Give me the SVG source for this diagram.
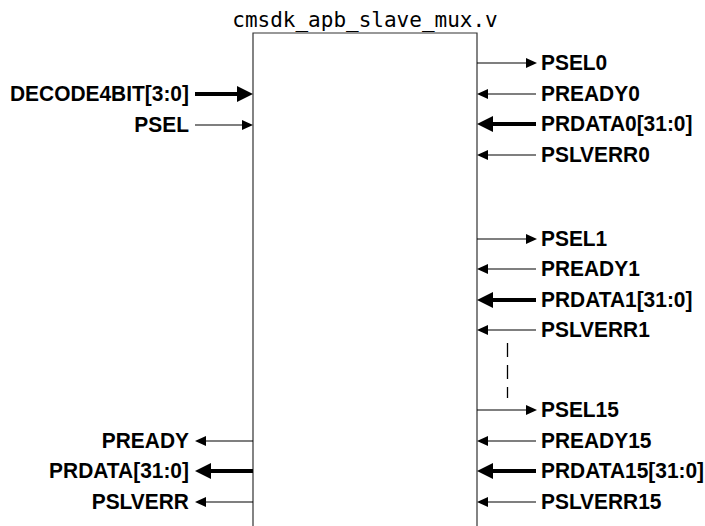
<svg xmlns="http://www.w3.org/2000/svg" width="705" height="526" viewBox="0 0 705 526">
<style>
.lbl{font-family:"Liberation Sans",Arial,sans-serif;font-weight:bold;font-size:22.5px;fill:#000}
.ttl{font-family:"DejaVu Sans Mono","Liberation Mono",monospace;font-size:21px;fill:#000}
.thin{stroke:#000;stroke-width:1.2;fill:none;marker-end:url(#ah)}
.thick{stroke:#000;stroke-width:4;fill:none;marker-end:url(#ahb)}
.box{fill:none;stroke:#333;stroke-width:1.2}
</style>
<defs>
<marker id="ah" viewBox="0 -5 11 10" markerWidth="11" markerHeight="10" refX="1" refY="0" orient="auto" markerUnits="userSpaceOnUse"><path d="M0,-5 L11,0 L0,5 Z" fill="#000"/></marker>
<marker id="ahb" viewBox="0 -8 16 16" markerWidth="16" markerHeight="16" refX="1" refY="0" orient="auto" markerUnits="userSpaceOnUse"><path d="M0,-8 L16,0 L0,8 Z" fill="#000"/></marker>
</defs>
<rect width="705" height="526" fill="#fff"/>
<g id="mux">
<path class="box" d="M253,540 V33 H477 V540"/>
<text class="ttl" x="365" y="27" text-anchor="middle">cmsdk_apb_slave_mux.v</text>
</g>
<g id="connectors">
<path class="thick" d="M195,94 H238"/>
<path class="thin" d="M195,125 H243"/>
<path class="thin" d="M253,441 H205"/>
<path class="thick" d="M253,471 H210"/>
<path class="thin" d="M253,502 H205"/>
<path class="thin" d="M477,63 H527"/>
<path class="thin" d="M536,94 H487"/>
<path class="thick" d="M536,124 H492"/>
<path class="thin" d="M536,155 H487"/>
<path class="thin" d="M477,239 H527"/>
<path class="thin" d="M536,269 H487"/>
<path class="thick" d="M536,300 H492"/>
<path class="thin" d="M536,330 H487"/>
<path d="M507.5,343 V398" stroke="#000" stroke-width="1.3" stroke-dasharray="14 8" fill="none"/>
<path class="thin" d="M477,410 H527"/>
<path class="thin" d="M536,441 H487"/>
<path class="thick" d="M536,471 H492"/>
<path class="thin" d="M536,502 H487"/>
</g>
<g id="left-ports" class="lbl" text-anchor="end" transform="scale(0.93,1)">
<text x="203.2" y="101.5">DECODE4BIT[3:0]</text>
<text x="203.2" y="132.5">PSEL</text>
<text x="203.2" y="448.5">PREADY</text>
<text x="203.2" y="478.5">PRDATA[31:0]</text>
<text x="203.2" y="509.5">PSLVERR</text>
</g>
<g id="right-ports" class="lbl" transform="scale(0.93,1)">
<text x="581.7" y="70.5">PSEL0</text>
<text x="581.7" y="101.5">PREADY0</text>
<text x="581.7" y="131.5">PRDATA0[31:0]</text>
<text x="581.7" y="162.5">PSLVERR0</text>
<text x="581.7" y="246.5">PSEL1</text>
<text x="581.7" y="276.5">PREADY1</text>
<text x="581.7" y="307.5">PRDATA1[31:0]</text>
<text x="581.7" y="337.5">PSLVERR1</text>
<text x="581.7" y="417.5">PSEL15</text>
<text x="581.7" y="448.5">PREADY15</text>
<text x="581.7" y="478.5">PRDATA15[31:0]</text>
<text x="581.7" y="509.5">PSLVERR15</text>
</g>
</svg>
